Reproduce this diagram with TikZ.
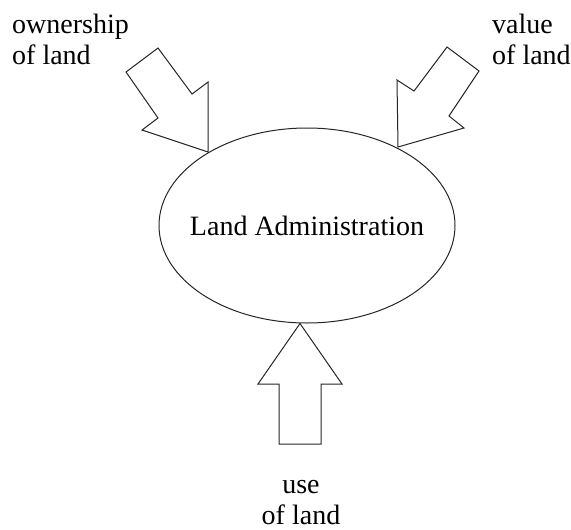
\documentclass[tikz,border=0pt]{standalone}
\usepackage{fontspec}
\setmainfont{Liberation Serif}
\usetikzlibrary{shapes.geometric}
\begin{document}
\begin{tikzpicture}[x=1pt,y=-1pt,
  lbl/.style={inner sep=0pt,font=\fontsize{28}{31}\selectfont},
  blockarrow/.style={draw=black!85,line width=1pt,line join=miter,fill=white}]
\useasboundingbox (0,0) rectangle (571,530);
\node[draw=black!85,line width=1pt,ellipse,minimum width=296pt,minimum height=195pt,inner sep=0pt,font=\fontsize{28}{31}\selectfont] (adm) at (307,225.5) {\makebox[0pt]{Land Administration}};
\coordinate (tl) at (208,152);
\coordinate (tr) at (398,147);
\coordinate (tb) at (300,323.5);
\draw[blockarrow] (tl) -- (142,130) -- (158,118) -- (126,72) -- (158,48) -- (192,94) -- (208,82) -- cycle;
\draw[blockarrow] (tr) -- (397,80) -- (414,91) -- (447,47) -- (479,71) -- (449,116) -- (464,128) -- cycle;
\draw[blockarrow] (tb) -- (258,384) -- (279,384) -- (279,444) -- (321,444) -- (321,384) -- (342,384) -- cycle;
\node[lbl,anchor=north west,align=left] (own) at (12,14) {ownership\\of land};
\node[lbl,anchor=north west,align=left] (val) at (492,14) {value\\of land};
\node[lbl,anchor=north,align=center] (use) at (301,480) {use\\of land};
\end{tikzpicture}
\end{document}
